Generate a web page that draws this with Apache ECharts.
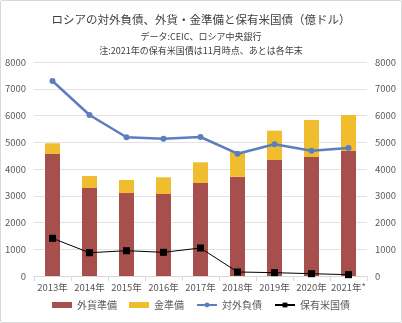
<!DOCTYPE html>
<html><head><meta charset="utf-8">
<script src="https://cdn.jsdelivr.net/npm/echarts@6/dist/echarts.min.js"></script>
<style>html,body{margin:0;padding:0;background:#fff}#c{width:400px;height:321px;border:1px solid #d9d9d9;border-radius:2px}</style>
</head><body><div id="c"></div>
<script>
const categories = ['2013年','2014年','2015年','2016年','2017年','2018年','2019年','2020年','2021年*'];
const fxReserves = [4560, 3290, 3100, 3065, 3477, 3712, 4336, 4449, 4673];
const goldReserves = [400, 448, 489, 625, 773, 938, 1096, 1383, 1345];
const externalDebt = [7290, 6020, 5185, 5133, 5196, 4573, 4922, 4685, 4785];
const usTreasuries = [1410, 870, 946, 885, 1047, 150, 125, 86, 50];
const yTicks = {min: 0, max: 8000, interval: 1000};
const font = '"Noto Sans CJK JP","Noto Sans",sans-serif';
const chart = echarts.init(document.getElementById('c'));
chart.setOption({
  textStyle: {fontFamily: font},
  animation: false,
  title: [
    {text: 'ロシアの対外負債、外貨・金準備と保有米国債（億ドル）', left: 'center', top: 8, textStyle: {fontSize: 11.5, fontWeight: 'normal', color: '#404040', fontFamily: font}},
    {text: 'データ:CEIC、ロシア中央銀行', left: 'center', top: 26, textStyle: {fontSize: 9, fontWeight: 'normal', color: '#404040', fontFamily: font}},
    {text: '注:2021年の保有米国債は11月時点、あとは各年末', left: 'center', top: 40, textStyle: {fontSize: 9, fontWeight: 'normal', color: '#404040', fontFamily: font}}
  ],
  grid: {left: 33, right: 34, top: 61, bottom: 46},
  legend: {
    bottom: 7, left: 'center', itemGap: 12, itemWidth: 20, itemHeight: 6,
    textStyle: {fontSize: 10, color: '#595959', fontFamily: font},
    data: [
      {name: '外貨準備', icon: 'rect'},
      {name: '金準備', icon: 'rect'},
      {name: '対外負債'},
      {name: '保有米国債'}
    ]
  },
  xAxis: {
    type: 'category', data: categories,
    axisLine: {lineStyle: {color: '#d9d9d9'}},
    axisTick: {show: true, lineStyle: {color: '#d9d9d9'}},
    axisLabel: {color: '#595959', fontSize: 9.5, margin: 7, interval: 0, hideOverlap: false}
  },
  yAxis: [
    {type: 'value', min: yTicks.min, max: yTicks.max, interval: yTicks.interval,
     axisLabel: {color: '#595959', fontSize: 9.5, margin: 8, formatter: v => String(v)},
     splitLine: {lineStyle: {color: '#e3e3e3'}}, axisLine: {show: false}, axisTick: {show: false}},
    {type: 'value', min: yTicks.min, max: yTicks.max, interval: yTicks.interval, position: 'right',
     axisLabel: {color: '#595959', fontSize: 9.5, margin: 8, formatter: v => String(v)},
     splitLine: {show: false}, axisLine: {show: false}, axisTick: {show: false}}
  ],
  series: [
    {name: '外貨準備', type: 'bar', stack: 'r', data: fxReserves, barWidth: 15, itemStyle: {color: '#a64f4c'}},
    {name: '金準備', type: 'bar', stack: 'r', data: goldReserves, barWidth: 15, itemStyle: {color: '#f0bd2e'}},
    {name: '対外負債', type: 'line', data: externalDebt, symbol: 'circle', symbolSize: 6,
     lineStyle: {color: '#5b7fbe', width: 2.5}, itemStyle: {color: '#5b7fbe'}, z: 5},
    {name: '保有米国債', type: 'line', data: usTreasuries, symbol: 'rect', symbolSize: 7,
     lineStyle: {color: '#000', width: 1}, itemStyle: {color: '#000'}, z: 6}
  ]
});
</script></body></html>
